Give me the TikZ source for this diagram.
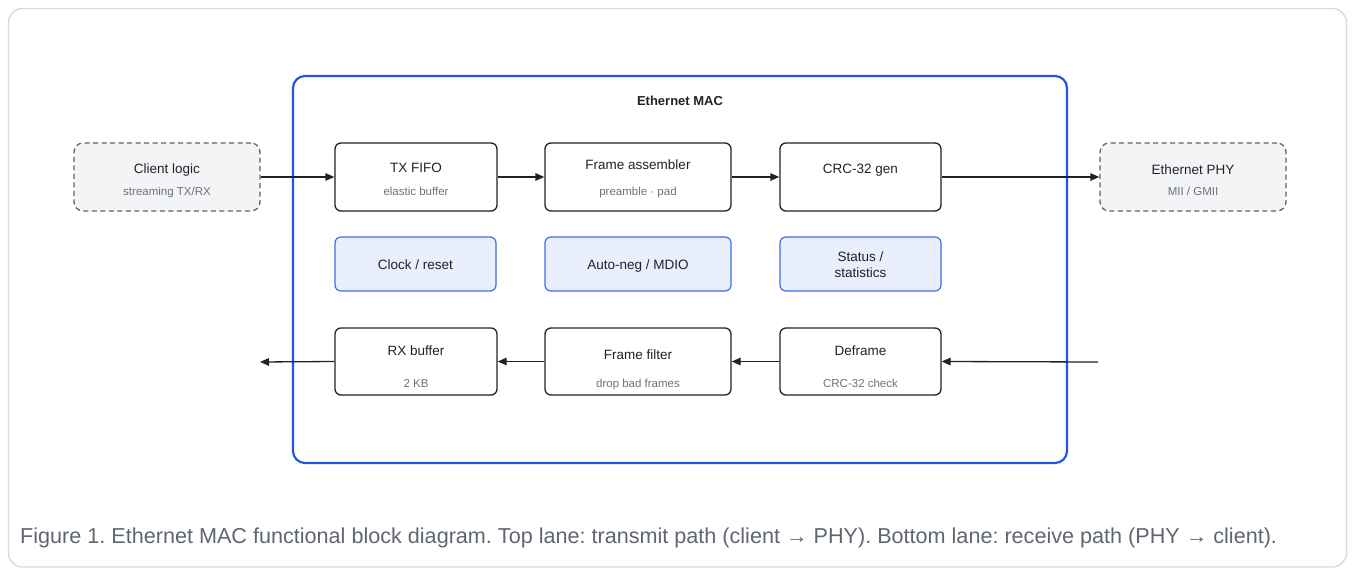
\documentclass[tikz,border=0pt]{standalone}
\usepackage{fontspec}
\setmainfont{Liberation Sans}
\usetikzlibrary{arrows.meta}
\definecolor{ink}{HTML}{1F2328}
\definecolor{subgray}{HTML}{6B7280}
\definecolor{capgray}{HTML}{5F6670}
\definecolor{macblue}{HTML}{2455DF}
\definecolor{ctlblue}{HTML}{3D6FE6}
\definecolor{ctlfill}{HTML}{E9EFFD}
\definecolor{extfill}{HTML}{F3F4F6}
\definecolor{extline}{HTML}{5B6270}
\definecolor{frame}{HTML}{D5D9DF}
\frenchspacing
\tikzset{
  blk/.style={shape=rectangle, draw=ink, line width=1.3pt, rounded corners=6pt, fill=white, inner sep=0pt, minimum height=68pt},
  ctl/.style={shape=rectangle, draw=ctlblue, fill=ctlfill, line width=1.2pt, rounded corners=6pt, inner sep=0pt, minimum height=54pt},
  ext/.style={shape=rectangle, draw=extline, fill=extfill, dash pattern=on 5pt off 3.5pt, line width=1.3pt, rounded corners=9pt, inner sep=0pt, minimum height=68pt, minimum width=186pt},
  ttl/.style={font=\fontsize{13.5}{16}\selectfont, text=ink, inner sep=0pt, text height=9.6pt, text depth=0pt},
  subt/.style={font=\fontsize{11.5}{14}\selectfont, text=subgray, inner sep=0pt, text height=8.2pt, text depth=0pt},
  flow/.style={draw=ink, line width=1.3pt, -{Triangle[length=9pt,width=7.5pt]}}
}
\begin{document}
\begin{tikzpicture}[x=1pt,y=-1pt]
\useasboundingbox (0,0) rectangle (1355,572);
% outer frame
\draw[frame, line width=1.3pt, rounded corners=14pt] (8.5,8.5) rectangle (1346.5,567);
% MAC container
\draw[macblue, line width=2.2pt, rounded corners=12pt] (293,76) rectangle (1067,463);
\node[font=\bfseries\fontsize{13}{15}\selectfont, text=ink, inner sep=0pt, text height=9.3pt, text depth=0pt] (mactitle) at (680,101) {Ethernet MAC};

% external blocks
\node[ext] (client) at (167,177) {};
\node[ttl] (clientT) at (167,169) {Client logic};
\node[subt] (clientS) at (167,191) {streaming TX/RX};
\node[ext] (phy) at (1193,177) {};
\node[ttl] (phyT) at (1193,170) {Ethernet PHY};
\node[subt] (phyS) at (1193,191) {MII / GMII};

% TX lane
\node[blk, minimum width=162pt] (txfifo) at (416,177) {};
\node[ttl] (txfifoT) at (416,168) {TX FIFO};
\node[subt] (txfifoS) at (416,191) {elastic buffer};
\node[blk, minimum width=186pt] (fasm) at (638,177) {};
\node[ttl] (fasmT) at (638,165) {Frame assembler};
\node[subt] (fasmS) at (638,191) {preamble · pad};
\node[blk, minimum width=161pt] (crcgen) at (860.5,177) {};
\node[ttl] (crcgenT) at (860.5,169) {CRC-32 gen};

% control row
\node[ctl, minimum width=161pt] (clk) at (415.5,264) {};
\node[ttl] (clkT) at (415.5,265) {Clock / reset};
\node[ctl, minimum width=186pt] (aneg) at (638,264) {};
\node[ttl] (anegT) at (638,265) {Auto-neg / MDIO};
\node[ctl, minimum width=161pt] (stat) at (860.5,264) {};
\node[ttl] (statT1) at (860.5,257) {Status /};
\node[ttl] (statT2) at (860.5,273) {statistics};

% RX lane
\node[blk, minimum width=162pt, minimum height=67pt] (rxbuf) at (416,361.5) {};
\node[ttl] (rxbufT) at (416,351) {RX buffer};
\node[subt] (rxbufS) at (416,383) {2 KB};
\node[blk, minimum width=186pt, minimum height=67pt] (ffilt) at (638,361.5) {};
\node[ttl] (ffiltT) at (638,355) {Frame filter};
\node[subt] (ffiltS) at (638,383) {drop bad frames};
\node[blk, minimum width=161pt, minimum height=67pt] (defr) at (860.5,361.5) {};
\node[ttl] (defrT) at (860.5,351) {Deframe};
\node[subt] (defrS) at (860.5,383) {CRC-32 check};

\coordinate (rxin) at (1098,362);
\coordinate (rxout) at (260,362);

% connectors
\draw[flow] (client) -- (txfifo);
\draw[flow] (txfifo) -- (fasm);
\draw[flow] (fasm) -- (crcgen);
\draw[flow] (crcgen) -- (phy);
\draw[flow] (rxin) -- (defr.east);
\draw[flow] (defr) -- (ffilt);
\draw[flow] (ffilt) -- (rxbuf);
\draw[flow] (rxbuf.west) -- (rxout);

% caption
\node[anchor=west, font=\fontsize{21.6}{25}\selectfont, text=capgray, inner sep=0pt, text height=15.4pt, text depth=0pt] (caption) at (20,536) {Figure 1. Ethernet MAC functional block diagram. Top lane: transmit path (client → PHY). Bottom lane: receive path (PHY → client).};
\end{tikzpicture}
\end{document}
